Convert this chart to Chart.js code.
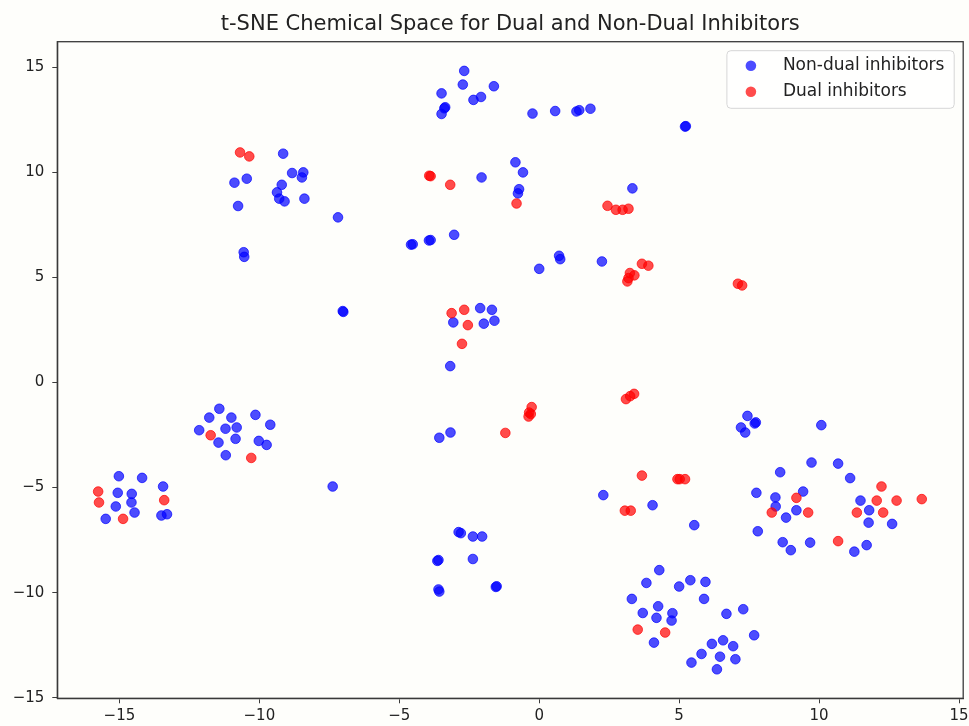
<!DOCTYPE html>
<html>
<head>
<meta charset="utf-8">
<script src="https://cdn.jsdelivr.net/npm/chart.js@4/dist/chart.umd.min.js"></script>
<style>
  html, body { margin: 0; padding: 0; background: #fefefb; }
  #wrap { width: 969px; height: 726px; position: relative; }
</style>
</head>
<body>
<div id="wrap"><canvas id="c" width="969" height="726"></canvas></div>
<script>
// t-SNE embedding coordinates (component 1 / component 2)
const nonDualX = [
  -9.15, -10.89, -10.45, -10.76, -8.83, -8.43, -8.48, -9.20, -9.37, -9.29, -9.10, -8.39, -7.19, -10.56, -10.54,
  -7.02, -7.00,
  -11.43, -11.79, -11.00, -10.14, -9.61, -12.15, -11.21, -10.81, -11.46, -10.85, -10.02, -9.74, -11.20,
  -15.02, -14.19, -13.44, -15.06, -14.56, -15.13, -14.57, -14.46, -13.50, -13.30, -15.49, -7.38,
  -2.68, -2.73, -1.62, -3.49, -2.35, -2.08, -3.39, -3.36, -3.49, -0.24, 0.57, 1.33, 1.43, 1.83, 5.21, 5.24,
  -2.06, -0.85, -0.58, -0.72, -0.76, 3.33, -4.58, -4.52, -3.94, -3.88, -3.04,
  0.00, 0.71, 0.75, 2.24,
  -2.11, -1.69, -3.07, -1.98, -1.60, -3.18, -3.57, -3.17,
  7.44, 7.74, 7.70, 7.21, 7.36, 10.08,
  8.61, 9.73, 10.68, 11.11,
  2.29, 4.05, 5.54,
  -2.88, -2.80, -2.37, -2.04, -3.64, -3.60, -2.37, -3.57, -3.60, -1.55, -1.52,
  4.29, 3.83, 5.00, 3.31, 4.25, 3.70, 4.19, 4.76, 4.73, 4.10, 5.40, 5.94, 5.89, 6.69, 7.29, 7.68,
  6.17, 6.57, 6.93, 5.80, 6.46, 7.01, 5.44, 6.35,
  7.76, 8.44, 9.43, 8.45, 8.82, 9.19, 7.81, 8.70, 8.99, 9.68, 11.48, 11.79, 11.77, 12.61, 11.26, 11.70
];
const nonDualY = [
  10.89, 9.51, 9.70, 8.40, 9.97, 10.00, 9.76, 9.41, 9.05, 8.75, 8.62, 8.75, 7.86, 6.20, 5.98,
  3.40, 3.36,
  -1.25, -1.67, -1.67, -1.54, -2.01, -2.27, -2.20, -2.14, -2.86, -2.68, -2.78, -2.97, -3.46,
  -4.46, -4.54, -4.95, -5.25, -5.30, -5.90, -5.71, -6.19, -6.33, -6.27, -6.49, -4.95,
  14.83, 14.18, 14.10, 13.76, 13.45, 13.59, 13.05, 13.10, 12.78, 12.80, 12.92, 12.90, 12.96, 13.03, 12.18, 12.20,
  9.76, 10.48, 10.00, 9.20, 9.00, 9.24, 6.56, 6.58, 6.76, 6.78, 7.03,
  5.41, 6.03, 5.87, 5.76,
  3.54, 3.46, 2.86, 2.80, 2.94, 0.78, -2.63, -2.38,
  -1.59, -1.90, -1.95, -2.14, -2.38, -2.03,
  -4.27, -3.81, -3.86, -4.55,
  -5.36, -5.84, -6.79,
  -7.12, -7.17, -7.33, -7.33, -8.49, -8.45, -8.40, -9.95, -9.85, -9.73, -9.70,
  -8.93, -9.54, -9.71, -10.30, -10.65, -10.97, -11.20, -10.98, -11.33, -12.38, -9.41, -9.49, -10.30, -11.01, -10.79, -12.03,
  -12.44, -12.27, -12.55, -12.92, -13.05, -13.17, -13.33, -13.65,
  -5.25, -5.47, -5.19, -5.90, -6.43, -6.08, -7.08, -7.60, -7.98, -7.62, -5.62, -6.08, -6.67, -6.73, -8.05, -7.74
];
const dualX = [
  -10.69, -10.36,
  -11.74, -10.29,
  -15.76, -15.73, -13.40, -14.87,
  -3.93, -3.88, -3.18, -0.81,
  2.44, 2.74, 2.98, 3.19,
  3.67, 3.90, 3.24, 3.40, 3.19, 3.15,
  7.10, 7.25,
  -3.13, -2.68, -2.55, -2.76,
  -0.27, -0.36, -0.38, -0.30,
  -1.21,
  3.10, 3.25, 3.39,
  3.67,
  4.94, 5.02, 5.21,
  3.06, 3.27,
  3.52, 4.50,
  9.19, 8.31, 9.61, 10.68, 12.23, 12.06, 12.77, 13.67, 11.35, 12.29
];
const dualY = [
  10.95, 10.76,
  -2.51, -3.59,
  -5.19, -5.71, -5.60, -6.49,
  9.84, 9.82, 9.41, 8.52,
  8.41, 8.22, 8.22, 8.27,
  5.65, 5.56, 5.21, 5.10, 4.97, 4.81,
  4.70, 4.62,
  3.30, 3.46, 2.73, 1.84,
  -1.17, -1.43, -1.62, -1.50,
  -2.40,
  -0.79, -0.65, -0.54,
  -4.43,
  -4.60, -4.60, -4.60,
  -6.10, -6.10,
  -11.76, -11.90,
  -5.49, -6.19, -6.19, -7.55, -4.95, -5.62, -5.62, -5.55, -6.19, -6.19
];

const seriesLabels = ['Non-dual inhibitors', 'Dual inhibitors'];
const xTicks = [-15, -10, -5, 0, 5, 10, 15];
const yTicks = [-15, -10, -5, 0, 5, 10, 15];
const chartTitle = 't-SNE Chemical Space for Dual and Non-Dual Inhibitors';

const BLUE = 'rgba(0, 0, 255, 0.7)';
const RED = 'rgba(255, 0, 0, 0.7)';
const FONT = '"DejaVu Sans", sans-serif';
const INK = '#222';
const SPINE = '#3a3a3a';

const toPoints = (xs, ys) => xs.map((x, i) => ({ x: x, y: ys[i] }));
const fmt = v => (v < 0 ? '\u2212' + Math.abs(v) : String(v));

// frame on all four sides, title above the axes, legend box in the upper right
const decorations = {
  id: 'decorations',
  afterDatasetsDraw(chart) {
    const { ctx, chartArea: a } = chart;
    ctx.save();
    ctx.strokeStyle = SPINE;
    ctx.lineWidth = 1.3;
    ctx.strokeRect(a.left, a.top, a.right - a.left, a.bottom - a.top);

    ctx.fillStyle = INK;
    ctx.font = '21px ' + FONT;
    ctx.textAlign = 'center';
    ctx.textBaseline = 'alphabetic';
    ctx.fillText(chartTitle, (a.left + a.right) / 2, 30);

    // legend
    const bx = a.right - 236.3, by = a.top + 9, bw = 227.3, bh = 57.6, r = 4;
    ctx.beginPath();
    ctx.moveTo(bx + r, by);
    ctx.arcTo(bx + bw, by, bx + bw, by + bh, r);
    ctx.arcTo(bx + bw, by + bh, bx, by + bh, r);
    ctx.arcTo(bx, by + bh, bx, by, r);
    ctx.arcTo(bx, by, bx + bw, by, r);
    ctx.closePath();
    ctx.fillStyle = 'rgba(255,255,255,0.8)';
    ctx.fill();
    ctx.strokeStyle = '#d6d6d6';
    ctx.lineWidth = 1;
    ctx.stroke();

    ctx.font = '17px ' + FONT;
    ctx.textAlign = 'left';
    ctx.textBaseline = 'middle';
    chart.data.datasets.slice().sort((p, q) => q.order - p.order).forEach((ds, i) => {
      const cy = by + 15 + i * 26;
      ctx.beginPath();
      ctx.arc(bx + 24, cy, 5.3, 0, Math.PI * 2);
      ctx.fillStyle = ds.backgroundColor;
      ctx.fill();
      ctx.fillStyle = INK;
      ctx.fillText(ds.label, bx + 56, cy);
    });
    ctx.restore();
  }
};

const axisCommon = {
  type: 'linear',
  grid: { display: true, drawOnChartArea: false, drawTicks: true, tickLength: 5, color: SPINE, tickWidth: 1 },
  border: { display: true, color: SPINE, width: 1.3 },
};

new Chart(document.getElementById('c'), {
  type: 'scatter',
  data: {
    datasets: [
      {
        label: seriesLabels[0],
        data: toPoints(nonDualX, nonDualY),
        backgroundColor: BLUE,
        borderColor: BLUE,
        borderWidth: 1,
        pointRadius: 4.8,
        pointHoverRadius: 4.8,
        order: 2
      },
      {
        label: seriesLabels[1],
        data: toPoints(dualX, dualY),
        backgroundColor: RED,
        borderColor: RED,
        borderWidth: 1,
        pointRadius: 4.8,
        pointHoverRadius: 4.8,
        order: 1
      }
    ]
  },
  options: {
    responsive: false,
    animation: false,
    events: [],
    layout: { padding: { top: 41.7, right: 5, left: 0, bottom: 0 } },
    plugins: { legend: { display: false }, title: { display: false }, tooltip: { enabled: false } },
    scales: {
      x: Object.assign({}, axisCommon, {
        position: 'bottom',
        min: -17.22, max: 15.15,
        afterBuildTicks: s => { s.ticks = xTicks.map(v => ({ value: v })); },
        afterFit: s => { s.height = 27.7; s.paddingLeft = 0; s.paddingRight = 0; },
        ticks: { color: INK, font: { family: FONT, size: 15 }, padding: 4, callback: fmt, maxRotation: 0, autoSkip: false }
      }),
      y: Object.assign({}, axisCommon, {
        position: 'left',
        min: -15.03, max: 16.22,
        afterBuildTicks: s => { s.ticks = yTicks.map(v => ({ value: v })); },
        afterFit: s => { s.width = 57.3; s.paddingTop = 0; s.paddingBottom = 0; },
        ticks: { color: INK, font: { family: FONT, size: 15 }, padding: 8, callback: fmt, autoSkip: false }
      })
    }
  },
  plugins: [decorations]
});
</script>
</body>
</html>
